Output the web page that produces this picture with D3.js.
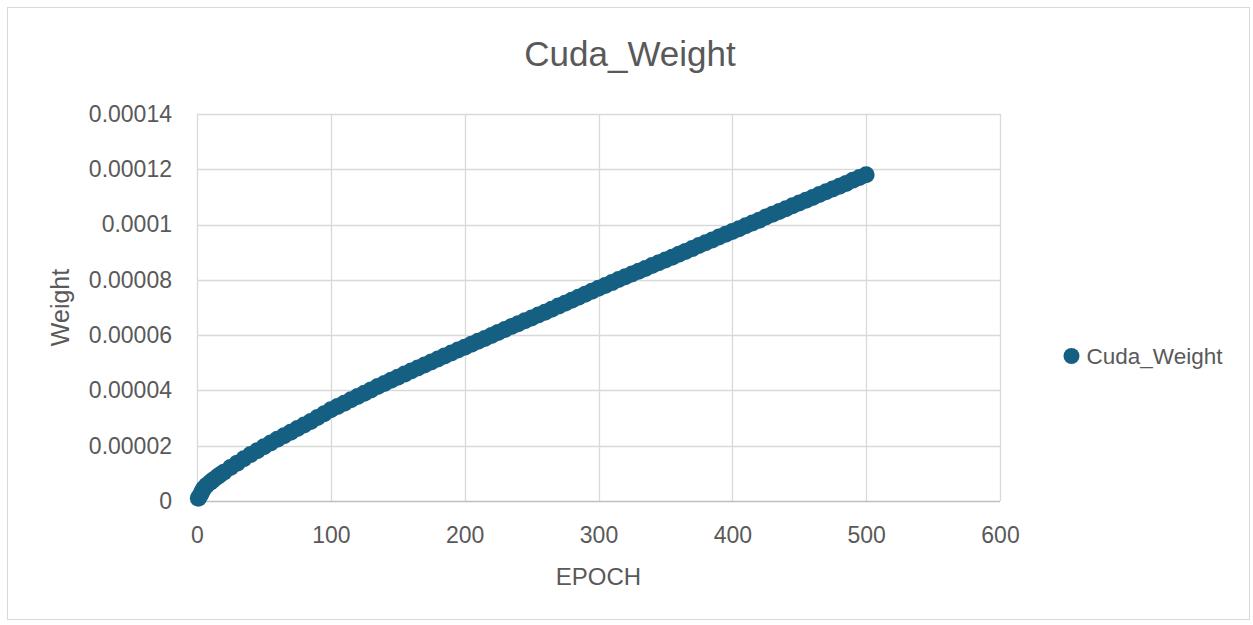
<!DOCTYPE html>
<html>
<head>
<meta charset="utf-8">
<title>Cuda_Weight</title>
<script src="https://cdn.jsdelivr.net/npm/d3@7"></script>
<style>
  body { margin: 0; background: #fff; }
  text { font-family: 'Liberation Sans', Arial, sans-serif; fill: #595959; }
</style>
</head>
<body>
<svg id="chart" width="1253" height="625"></svg>
<script>
'use strict';

var seriesName = 'Cuda_Weight';

var epochs = [1, 2, 3, 4, 5, 7, 10, 12, 15, 17, 20, 25, 30, 35, 40, 45, 50, 55, 60, 65, 70, 75, 80, 85, 90, 95,
  100, 105, 110, 115, 120, 125, 130, 135, 140, 145, 150, 155, 160, 165, 170, 175, 180, 185, 190, 195,
  200, 205, 210, 215, 220, 225, 230, 235, 240, 245, 250, 255, 260, 265, 270, 275, 280, 285, 290, 295,
  300, 305, 310, 315, 320, 325, 330, 335, 340, 345, 350, 355, 360, 365, 370, 375, 380, 385, 390, 395,
  400, 405, 410, 415, 420, 425, 430, 435, 440, 445, 450, 455, 460, 465, 470, 475, 480, 485, 490, 495,
  500];

var weights = [0.10e-5, 0.18e-5, 0.26e-5, 0.36e-5, 0.45e-5, 0.56e-5, 0.68e-5, 0.76e-5, 0.87e-5, 0.94e-5,
  1.04e-5, 1.21e-5, 1.37e-5, 1.53e-5, 1.68e-5, 1.82e-5,
  1.96e-5, 2.10e-5, 2.23e-5, 2.36e-5, 2.49e-5, 2.62e-5, 2.75e-5, 2.88e-5, 3.02e-5, 3.16e-5,
  3.30e-5, 3.42e-5, 3.54e-5, 3.66e-5, 3.78e-5, 3.90e-5, 4.02e-5, 4.14e-5, 4.25e-5, 4.37e-5,
  4.48e-5, 4.59e-5, 4.70e-5, 4.81e-5, 4.92e-5, 5.03e-5, 5.14e-5, 5.25e-5, 5.35e-5, 5.46e-5,
  5.56e-5, 5.67e-5, 5.78e-5, 5.88e-5, 5.99e-5, 6.10e-5, 6.20e-5, 6.31e-5, 6.41e-5, 6.52e-5,
  6.62e-5, 6.73e-5, 6.83e-5, 6.94e-5, 7.05e-5, 7.15e-5, 7.26e-5, 7.37e-5, 7.48e-5, 7.59e-5,
  7.70e-5, 7.80e-5, 7.90e-5, 8.01e-5, 8.11e-5, 8.21e-5, 8.31e-5, 8.41e-5, 8.52e-5, 8.62e-5,
  8.72e-5, 8.82e-5, 8.93e-5, 9.03e-5, 9.13e-5, 9.24e-5, 9.34e-5, 9.44e-5, 9.55e-5, 9.65e-5,
  9.75e-5, 9.85e-5, 9.96e-5, 10.06e-5, 10.16e-5, 10.27e-5, 10.37e-5, 10.47e-5, 10.57e-5, 10.68e-5,
  10.78e-5, 10.88e-5, 10.98e-5, 11.09e-5, 11.19e-5, 11.29e-5, 11.39e-5, 11.49e-5, 11.60e-5, 11.70e-5,
  11.80e-5];

var xTicks = [0, 100, 200, 300, 400, 500, 600];
var yTicks = [0, 0.00002, 0.00004, 0.00006, 0.00008, 0.0001, 0.00012, 0.00014];

(function() {
  var width = 1253,
    height = 625,
    plotLeft = 197,
    plotRight = 1000,
    plotTop = 114,
    plotBottom = 501,
    color = '#156082',
    grid = '#d9d9d9',
    markerR = 8.5;

  var svg = d3.select('#chart');

  // outer chart frame
  svg.append('rect')
    .attr('x', 7.5)
    .attr('y', 7.5)
    .attr('width', width - 11)
    .attr('height', height - 13)
    .attr('fill', '#fff')
    .attr('stroke', grid)
    .attr('stroke-width', 1);

  var x = d3.scaleLinear()
    .domain([0, 600])
    .range([plotLeft, plotRight]);

  var y = d3.scaleLinear()
    .domain([0, 0.00014])
    .range([plotBottom, plotTop]);

  // gridlines
  svg.append('g')
    .selectAll('line')
    .data(xTicks)
    .enter().append('line')
    .attr('x1', function(d) { return Math.round(x(d)) + 0.5; })
    .attr('x2', function(d) { return Math.round(x(d)) + 0.5; })
    .attr('y1', plotTop)
    .attr('y2', plotBottom)
    .attr('stroke', grid)
    .attr('stroke-width', 1.3);

  svg.append('g')
    .selectAll('line')
    .data(yTicks)
    .enter().append('line')
    .attr('x1', plotLeft)
    .attr('x2', plotRight)
    .attr('y1', function(d) { return Math.round(y(d)) + 0.5; })
    .attr('y2', function(d) { return Math.round(y(d)) + 0.5; })
    .attr('stroke', function(d) { return d === 0 ? '#bfbfbf' : grid; })
    .attr('stroke-width', 1.3);

  // axes (labels only)
  var xAxis = svg.append('g')
    .attr('transform', 'translate(0,' + plotBottom + ')')
    .call(d3.axisBottom(x).tickValues(xTicks).tickSize(0).tickPadding(26));
  xAxis.select('.domain').remove();
  xAxis.selectAll('text').style('font-size', '23px');

  var yAxis = svg.append('g')
    .attr('transform', 'translate(' + plotLeft + ',0)')
    .call(d3.axisLeft(y).tickValues(yTicks).tickSize(0).tickPadding(25)
      .tickFormat(d3.format('.5~f')));
  yAxis.select('.domain').remove();
  yAxis.selectAll('text').style('font-size', '23px');

  // points
  svg.append('g')
    .selectAll('circle')
    .data(epochs)
    .enter().append('circle')
    .attr('cx', function(d) { return x(d); })
    .attr('cy', function(d, i) { return y(weights[i]); })
    .attr('r', markerR)
    .attr('fill', color);

  // titles
  svg.append('text')
    .attr('x', 630)
    .attr('y', 66)
    .attr('text-anchor', 'middle')
    .style('font-size', '35px')
    .text(seriesName);

  svg.append('text')
    .attr('x', (plotLeft + plotRight) / 2)
    .attr('y', 585)
    .attr('text-anchor', 'middle')
    .style('font-size', '24px')
    .text('EPOCH');

  svg.append('text')
    .attr('transform', 'translate(69,' + (plotTop + plotBottom) / 2 + ') rotate(-90)')
    .attr('text-anchor', 'middle')
    .style('font-size', '25px')
    .text('Weight');

  // legend
  var legend = svg.append('g')
    .attr('transform', 'translate(1071.5,356)');
  legend.append('circle')
    .attr('r', 8)
    .attr('fill', color);
  legend.append('text')
    .attr('x', 15)
    .attr('dy', '0.35em')
    .style('font-size', '22.5px')
    .text(seriesName);
})();
</script>
</body>
</html>
